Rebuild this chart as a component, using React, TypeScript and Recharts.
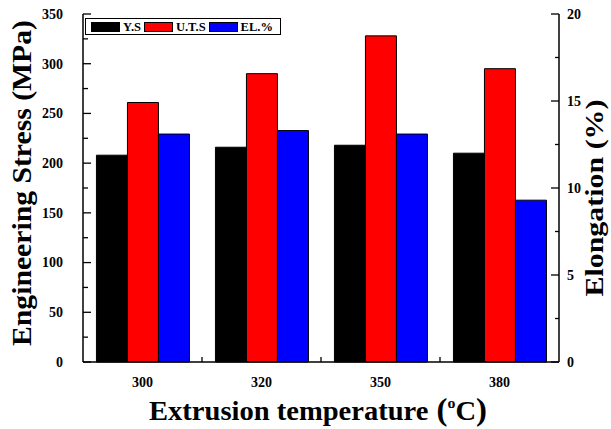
import React from 'react';
import { BarChart, Bar, XAxis, YAxis, Legend, Label } from 'recharts';

const FONT = '"Liberation Serif", "Times New Roman", Times, serif';

// ---- data ----
const categories = ['300', '320', '350', '380'];
const ysValues = [208, 216, 218, 210];
const utsValues = [261, 290, 328, 295];
const elValues = [13.1, 13.3, 13.1, 9.3];
const stressTicks = [0, 25, 50, 75, 100, 125, 150, 175, 200, 225, 250, 275, 300, 325, 350];
const elongTicks = [0, 2.5, 5, 7.5, 10, 12.5, 15, 17.5, 20];
const seriesNames = ['Y.S', 'U.T.S', 'EL.%'];
const seriesColors = ['#000000', '#ff0000', '#0000ff'];

const data = categories.map((c, i) => ({
  temp: c,
  ys: ysValues[i],
  uts: utsValues[i],
  el: elValues[i],
}));

// ---- layout ----
const W = 611;
const H = 429;
const LEFT_W = 83;
const RIGHT_W = 52;
const BOTTOM_H = 67;
const TOP_M = 14;
const PLOT_W = W - LEFT_W - RIGHT_W;
const HALF_BAND = PLOT_W / categories.length / 2;
const LEFT_MARGIN = 20;
const RIGHT_MARGIN = 8;
const TICK_FS = 14;

const LeftTick = (props: any) => {
  const { x, y, payload } = props;
  const axisX = x + LEFT_MARGIN;
  const v = payload.value;
  const major = v % 50 === 0;
  return (
    <g>
      <line x1={axisX} x2={axisX + (major ? 8 : 5)} y1={y} y2={y} stroke="#000" strokeWidth={1.3} />
      {major && (
        <text x={x} y={y} dy="0.35em" textAnchor="end" fontFamily={FONT} fontWeight="bold" fontSize={TICK_FS} fill="#000">
          {v}
        </text>
      )}
    </g>
  );
};

const RightTick = (props: any) => {
  const { x, y, payload } = props;
  const axisX = x - RIGHT_MARGIN;
  const v = payload.value;
  const major = v % 5 === 0;
  return (
    <g>
      <line x1={axisX} x2={axisX - (major ? 8 : 4)} y1={y} y2={y} stroke="#000" strokeWidth={1.3} />
      {major && (
        <text x={x} y={y} dy="0.35em" textAnchor="start" fontFamily={FONT} fontWeight="bold" fontSize={TICK_FS} fill="#000">
          {v}
        </text>
      )}
    </g>
  );
};

const BottomTick = (props: any) => {
  const { x, y, payload, index } = props;
  return (
    <g>
      {index > 0 && (
        <line x1={x - HALF_BAND} x2={x - HALF_BAND} y1={y} y2={y - 5} stroke="#000" strokeWidth={1.3} />
      )}
      <text x={x} y={y + 25} textAnchor="middle" fontFamily={FONT} fontWeight="bold" fontSize={TICK_FS} fill="#000">
        {payload.value}
      </text>
    </g>
  );
};

const TopTick = (props: any) => {
  const { x, y, index } = props;
  return (
    <g>
      <line x1={x} x2={x} y1={y} y2={y + 4} stroke="#000" strokeWidth={1.3} />
      {index > 0 && (
        <line x1={x - HALF_BAND} x2={x - HALF_BAND} y1={y} y2={y + 4} stroke="#000" strokeWidth={1.3} />
      )}
    </g>
  );
};

const LeftTitle = () => (
  <text
    x={22}
    y={183}
    transform="rotate(-90 22 183)"
    textAnchor="middle"
    dominantBaseline="central"
    fontFamily={FONT}
    fontWeight="bold"
    fontSize={27}
    textLength={326}
    lengthAdjust="spacingAndGlyphs"
    fill="#000"
  >
    Engineering Stress (MPa)
  </text>
);

const RightTitle = () => (
  <text
    x={594}
    y={198}
    transform="rotate(-90 594 198)"
    textAnchor="middle"
    dominantBaseline="central"
    fontFamily={FONT}
    fontWeight="bold"
    fontSize={25}
    textLength={197}
    lengthAdjust="spacingAndGlyphs"
    fill="#000"
  >
    Elongation (%)
  </text>
);

const BottomTitle = () => (
  <text
    x={318}
    y={420}
    textAnchor="middle"
    fontFamily={FONT}
    fontWeight="bold"
    fontSize={27}
    textLength={338}
    lengthAdjust="spacingAndGlyphs"
    fill="#000"
  >
    Extrusion temperature
    <tspan fontSize={31}> (</tspan>
    <tspan fontSize={15} dy={-12}>o</tspan>
    <tspan dy={12}>C</tspan>
    <tspan fontSize={31}>)</tspan>
  </text>
);

const LegendContent = () => (
  <div
    style={{
      boxSizing: 'border-box',
      width: 196,
      height: 17,
      border: '1px solid #000',
      display: 'flex',
      alignItems: 'center',
      paddingLeft: 5,
      fontFamily: FONT,
      fontWeight: 'bold',
      fontSize: 12.5,
      color: '#000',
      background: '#fff',
    }}
  >
    {seriesNames.map((n, i) => (
      <div key={n} style={{ display: 'flex', alignItems: 'center', marginRight: 3 }}>
        <div
          style={{
            boxSizing: 'border-box',
            width: 29,
            height: 10,
            background: seriesColors[i],
            border: '1px solid #000',
            marginRight: 3,
          }}
        />
        <span style={{ lineHeight: '12px' }}>{n}</span>
      </div>
    ))}
  </div>
);

export default function App() {
  return (
    <div style={{ position: 'absolute', left: 0, top: 0, width: W, height: H, background: '#fff' }}>
      <BarChart
        width={W}
        height={H}
        data={data}
        margin={{ top: TOP_M, right: 0, bottom: 0, left: 0 }}
        barCategoryGap="11.3%"
        barGap={0}
      >
        <XAxis
          dataKey="temp"
          height={BOTTOM_H}
          axisLine={{ stroke: '#000', strokeWidth: 1.5 }}
          tickLine={false}
          tickSize={0}
          tickMargin={0}
          tick={<BottomTick />}
          interval={0}
        >
          <Label content={<BottomTitle />} />
        </XAxis>
        <XAxis
          xAxisId="top"
          dataKey="temp"
          orientation="top"
          height={0}
          axisLine={{ stroke: '#000', strokeWidth: 1.5 }}
          tickLine={false}
          tickSize={0}
          tickMargin={0}
          tick={<TopTick />}
          interval={0}
        />
        <YAxis
          yAxisId="left"
          width={LEFT_W}
          domain={[0, 350]}
          ticks={stressTicks}
          interval={0}
          axisLine={{ stroke: '#000', strokeWidth: 1.5 }}
          tickLine={false}
          tickSize={0}
          tickMargin={LEFT_MARGIN}
          tick={<LeftTick />}
        >
          <Label content={<LeftTitle />} />
        </YAxis>
        <YAxis
          yAxisId="right"
          orientation="right"
          width={RIGHT_W}
          domain={[0, 20]}
          ticks={elongTicks}
          interval={0}
          axisLine={{ stroke: '#000', strokeWidth: 1.5 }}
          tickLine={false}
          tickSize={0}
          tickMargin={RIGHT_MARGIN}
          tick={<RightTick />}
        >
          <Label content={<RightTitle />} />
        </YAxis>
        <Legend
          layout="horizontal"
          verticalAlign="middle"
          align="center"
          content={<LegendContent />}
          wrapperStyle={{ position: 'absolute', left: 85, top: 18, width: 'auto', height: 'auto' }}
        />
        <Bar yAxisId="left" dataKey="ys" name={seriesNames[0]} fill={seriesColors[0]} stroke="#000" strokeWidth={1} isAnimationActive={false} />
        <Bar yAxisId="left" dataKey="uts" name={seriesNames[1]} fill={seriesColors[1]} stroke="#000" strokeWidth={1} isAnimationActive={false} />
        <Bar yAxisId="right" dataKey="el" name={seriesNames[2]} fill={seriesColors[2]} stroke="#000" strokeWidth={1} isAnimationActive={false} />
      </BarChart>
    </div>
  );
}
